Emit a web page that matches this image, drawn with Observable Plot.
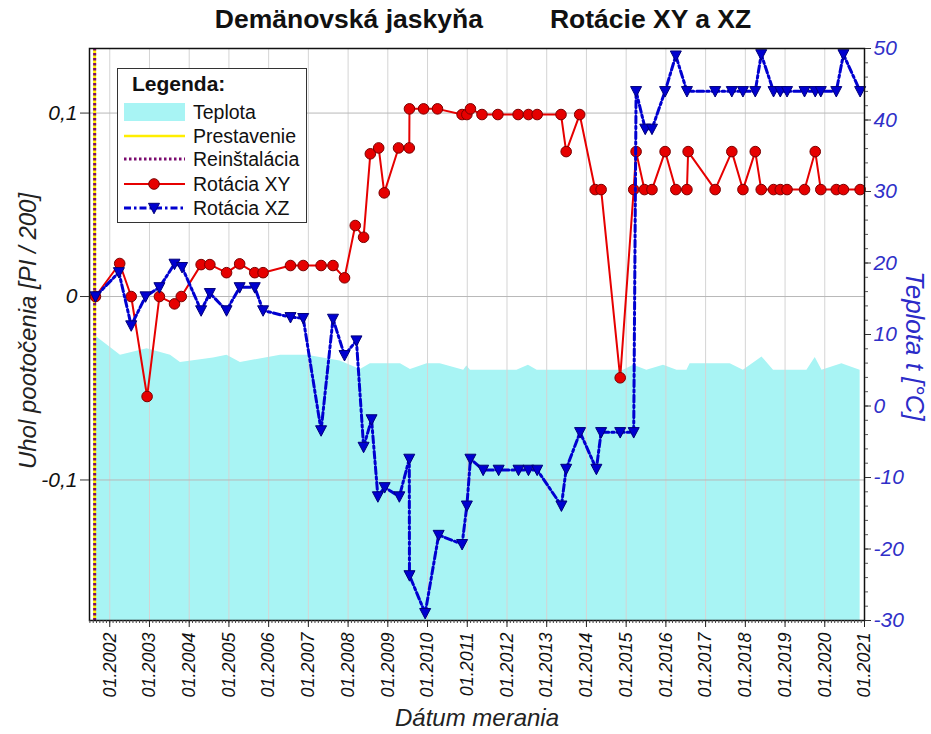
<!DOCTYPE html>
<html><head><meta charset="utf-8">
<script src="https://cdn.jsdelivr.net/npm/d3@7"></script>
<script src="https://cdn.jsdelivr.net/npm/@observablehq/plot@0.6"></script>
<style>
body{margin:0;background:#fff;font-family:"Liberation Sans",Arial,sans-serif}
#wrap{position:relative;width:931px;height:734px;overflow:hidden}
#title{height:30px;box-sizing:border-box;padding:5px 0 0 35px;text-align:center;font-weight:bold;font-size:26.5px;line-height:28px;color:#111}
#title span+span{margin-left:67px}
#chart svg{display:block;overflow:visible}
.atitle{position:absolute;font-style:italic;font-size:24px;white-space:nowrap;color:#222;line-height:28px}
#legend{position:absolute;left:117px;top:68px;width:190px;height:155px;box-sizing:border-box;border:1.5px solid #333;background:#fff}
#legend .hd{position:absolute;left:14px;top:3px;font-weight:bold;font-size:21px;line-height:24px;color:#111}
#legend .row{position:absolute;left:5px;height:24px;line-height:24px;font-size:19.5px;color:#111;white-space:nowrap}
#legend .row svg{position:absolute;left:0;top:0}
#legend .row span{position:absolute;left:70px;top:0}
</style></head>
<body>
<div id="wrap">
  <div id="title"><span>Demänovská jaskyňa</span><span>Rotácie XY a XZ</span></div>
  <div id="chart"></div>
  <div class="atitle" style="left:28px;top:331px;transform:translate(-50%,-50%) rotate(-90deg)">Uhol pootočenia [PI / 200]</div>
  <div class="atitle" style="left:915px;top:346px;font-size:26px;transform:translate(-50%,-50%) rotate(90deg);color:#2b2bc8">Teplota t [°C]</div>
  <div class="atitle" style="left:477px;top:718px;transform:translate(-50%,-50%)">Dátum merania</div>
  <div id="legend"></div>
</div>
<script>
// ---- data (dates as decimal years) ----
const installDates = [2001.62];

const xyDates = [2001.64, 2002.25, 2002.54, 2002.94, 2003.25, 2003.63, 2003.80, 2004.30, 2004.52, 2004.94,
  2005.27, 2005.65, 2005.86, 2006.55, 2006.87, 2007.32, 2007.62, 2007.91, 2008.18, 2008.39,
  2008.56, 2008.77, 2008.91, 2009.27, 2009.54, 2009.545, 2009.90, 2010.25, 2010.87, 2010.99,
  2011.08, 2011.37, 2011.77, 2012.28, 2012.54, 2012.76, 2013.36, 2013.49, 2013.83, 2014.22,
  2014.37, 2014.85, 2015.19, 2015.25, 2015.46, 2015.65, 2015.98, 2016.25, 2016.53, 2016.56,
  2017.24, 2017.66, 2017.94, 2018.25, 2018.40, 2018.71, 2018.88, 2019.05, 2019.49, 2019.76,
  2019.90, 2020.29, 2020.47, 2020.89];
const xyValues = [0, 0.018, 0, -0.0545, 0, -0.004, 0, 0.0174, 0.0174, 0.013,
  0.0178, 0.013, 0.013, 0.0169, 0.0169, 0.0169, 0.0169, 0.0102, 0.0387, 0.0323,
  0.0778, 0.081, 0.0565, 0.081, 0.081, 0.1023, 0.1023, 0.1023, 0.0992, 0.0992,
  0.1023, 0.0992, 0.0992, 0.0992, 0.0992, 0.0992, 0.0992, 0.079, 0.0992, 0.0583,
  0.0583, -0.0443, 0.0583, 0.079, 0.0583, 0.0583, 0.079, 0.0583, 0.0583, 0.079,
  0.0583, 0.079, 0.0583, 0.079, 0.0583, 0.0583, 0.0583, 0.0583, 0.0583, 0.079,
  0.0583, 0.0583, 0.0583, 0.0583];

const xzDates = [2001.64, 2002.23, 2002.54, 2002.90, 2003.25, 2003.63, 2003.82, 2004.30, 2004.52, 2004.94,
  2005.27, 2005.65, 2005.86, 2006.55, 2006.87, 2007.32, 2007.62, 2007.91, 2008.21, 2008.39,
  2008.59, 2008.75, 2008.92, 2009.29, 2009.54, 2009.545, 2009.94, 2010.28, 2010.87, 2010.99,
  2011.08, 2011.40, 2011.79, 2012.29, 2012.54, 2012.76, 2013.37, 2013.49, 2013.84, 2014.25,
  2014.37, 2014.85, 2015.19, 2015.25, 2015.48, 2015.65, 2015.98, 2016.25, 2016.53, 2017.24,
  2017.66, 2017.94, 2018.25, 2018.40, 2018.71, 2018.88, 2019.05, 2019.49, 2019.76, 2019.90,
  2020.29, 2020.47, 2020.89];
const xzValues = [0, 0.0132, -0.0158, 0, 0.005, 0.0178, 0.016, -0.0076, 0.0018, -0.0076,
  0.005, 0.005, -0.0076, -0.0113, -0.0118, -0.073, -0.0122, -0.032, -0.024, -0.082,
  -0.067, -0.109, -0.104, -0.109, -0.0885, -0.152, -0.1726, -0.130, -0.135, -0.114,
  -0.0885, -0.0945, -0.0945, -0.0945, -0.0945, -0.0945, -0.114, -0.094, -0.074, -0.094,
  -0.074, -0.074, -0.074, 0.1119, 0.0914, 0.0914, 0.1119, 0.1313, 0.1119, 0.1119,
  0.1119, 0.1119, 0.1119, 0.132, 0.1119, 0.1119, 0.1119, 0.1119, 0.1119, 0.1119,
  0.1119, 0.132, 0.1119];

const tempDates = [2001.64, 2002.27, 2002.94, 2003.53, 2003.78, 2004.61, 2004.95, 2005.29, 2006.30, 2006.97,
  2007.80, 2008.31, 2008.56, 2009.32, 2009.57, 2009.99, 2010.32, 2010.91, 2010.99, 2011.08,
  2012.25, 2012.54, 2012.76, 2013.84, 2014.93, 2015.19, 2015.52, 2015.94, 2016.28, 2016.53,
  2016.61, 2017.62, 2017.95, 2018.42, 2018.71, 2019.55, 2019.76, 2019.93, 2020.43, 2020.89];
const tempValues = [9.8, 7.1, 8.0, 7.1, 6.1, 6.7, 7.1, 6.1, 7.1, 7.1,
  6.3, 5.1, 5.9, 5.9, 5.1, 5.9, 5.9, 5.0, 5.6, 5.0,
  5.0, 5.7, 5.0, 5.0, 5.0, 5.7, 5.0, 5.7, 5.0, 5.0,
  5.9, 5.9, 5.0, 6.85, 5.0, 5.0, 6.8, 5.0, 5.9, 5.0];

const yearTicks = d3.range(2002, 2022);
const leftTicks = [-0.1, 0, 0.1];
const tempTicks = d3.range(-30, 51, 10);
const tempMinorTicks = d3.range(-30, 51, 2);

// ---- scales ----
const X_DOMAIN = [2001.49, 2021.0];
const Y_DOMAIN = [-0.1766, 0.1352];
const T_DOMAIN = [-30, 50];
const tToY = t => Y_DOMAIN[0] + (t - T_DOMAIN[0]) / (T_DOMAIN[1] - T_DOMAIN[0]) * (Y_DOMAIN[1] - Y_DOMAIN[0]);
const yToT = y => T_DOMAIN[0] + (y - Y_DOMAIN[0]) / (Y_DOMAIN[1] - Y_DOMAIN[0]) * (T_DOMAIN[1] - T_DOMAIN[0]);

const xy = xyDates.map((d, i) => ({date: d, v: xyValues[i]}));
const xz = xzDates.map((d, i) => ({date: d, v: xzValues[i]}));
const temp = tempDates.map((d, i) => ({date: d, t: tempValues[i]}));
const monthTicks = d3.range(0, Math.round((X_DOMAIN[1] - 2001.5) * 12) + 1).map(k => 2001.5 + k / 12);

const CYAN = "#a8f4f4", RED = "#e60000", BLUE = "#0000d0", PURPLE = "#7a0a6e", YELLOW = "#ffee00";
const triDown = {draw(ctx, size) {
  const r = Math.sqrt(size / Math.PI);
  ctx.moveTo(-r, -r * 0.85); ctx.lineTo(r, -r * 0.85); ctx.lineTo(0, r * 1.05); ctx.closePath();
}};
const fmtComma = d => d === 0 ? "0" : String(d).replace(".", ",");

const chart = Plot.plot({
  width: 931, height: 704,
  marginTop: 18, marginBottom: 114, marginLeft: 89, marginRight: 67,
  x: {domain: X_DOMAIN},
  y: {domain: Y_DOMAIN},
  style: {fontFamily: "'Liberation Sans', Arial, sans-serif", background: "transparent", color: "#111", overflow: "visible"},
  marks: [
    Plot.areaY(temp, {x: "date", y1: Y_DOMAIN[0], y2: d => tToY(d.t), fill: CYAN}),
    Plot.gridX(yearTicks, {stroke: "#d4d4d4", strokeOpacity: 1}),
    Plot.gridY(leftTicks, {stroke: "#b8b8b8", strokeOpacity: 1}),
    Plot.ruleX(installDates, {stroke: YELLOW, strokeWidth: 3}),
    Plot.ruleX(installDates, {stroke: PURPLE, strokeWidth: 3, strokeDasharray: "2.5,2.5"}),
    Plot.line(xy, {x: "date", y: "v", stroke: RED, strokeWidth: 2}),
    Plot.dot(xy, {x: "date", y: "v", r: 5.3, fill: RED, stroke: "#7a0000", strokeWidth: 1}),
    Plot.line(xz, {x: "date", y: "v", stroke: BLUE, strokeWidth: 3, strokeDasharray: "7,3,2.5,3"}),
    Plot.dot(xz, {x: "date", y: "v", r: 5.5, symbol: triDown, fill: BLUE, stroke: "#00007a", strokeWidth: 1}),
    Plot.frame({stroke: "#111", strokeWidth: 1.5}),
    Plot.axisY({ticks: leftTicks, tickFormat: fmtComma, tickSize: 9, tickPadding: 3, fontSize: 21, fontStyle: "italic", label: null, stroke: "#333"}),
    Plot.axisY({anchor: "right", ticks: tempMinorTicks.map(tToY), tickSize: 3, tickFormat: () => "", label: null, stroke: "#555"}),
    Plot.axisY({anchor: "right", ticks: tempTicks.map(tToY), tickSize: 6, tickPadding: 3, tickFormat: d => String(Math.round(yToT(d))), fontSize: 21, fontStyle: "italic", fill: "#3030c8", stroke: "#333", label: null}),
    Plot.axisX({ticks: monthTicks, tickSize: 3, tickFormat: () => "", label: null, stroke: "#444"}),
    Plot.axisX({ticks: yearTicks, tickSize: 7, tickPadding: 5, tickRotate: -90, tickFormat: d => "01." + d, fontSize: 18, fontStyle: "italic", label: null, stroke: "#222"})
  ]
});
document.getElementById("chart").appendChild(chart);

// ---- legend ----
const legendItems = ["Teplota", "Prestavenie", "Reinštalácia", "Rotácia XY", "Rotácia XZ"];
const legendCenters = [42.7, 67, 90.3, 114.7, 138.7];
const swatches = [
  `<rect x="1" y="3" width="61" height="18" fill="${CYAN}"/>`,
  `<line x1="1" x2="62" y1="12" y2="12" stroke="${YELLOW}" stroke-width="2.5"/>`,
  `<line x1="1" x2="62" y1="12" y2="12" stroke="${PURPLE}" stroke-width="3" stroke-dasharray="2.5,2.5"/>`,
  `<line x1="1" x2="62" y1="12" y2="12" stroke="${RED}" stroke-width="2"/><circle cx="31" cy="12" r="5.3" fill="${RED}" stroke="#7a0000"/>`,
  `<line x1="1" x2="62" y1="12" y2="12" stroke="${BLUE}" stroke-width="3" stroke-dasharray="7,3,2.5,3"/><path d="M25.5,7.3L36.5,7.3L31,17.8Z" fill="${BLUE}" stroke="#00007a"/>`
];
const lg = document.getElementById("legend");
lg.innerHTML = `<div class="hd">Legenda:</div>` + legendItems.map((name, i) =>
  `<div class="row" style="top:${legendCenters[i] - 12}px"><svg width="64" height="24">${swatches[i]}</svg><span>${name}</span></div>`).join("");
</script>
</body></html>
